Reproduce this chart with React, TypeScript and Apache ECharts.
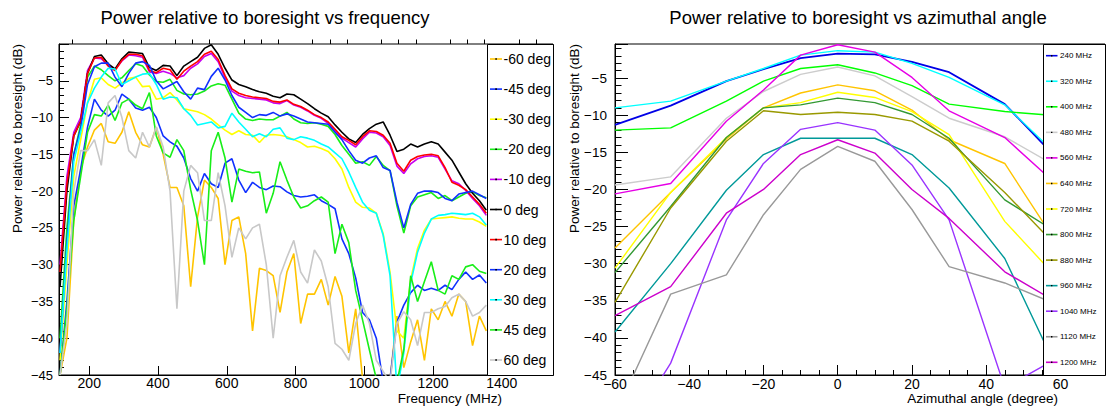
import React, { useEffect, useRef } from 'react';
import * as echarts from 'echarts';

const FONT = '"Liberation Sans", Arial, Helvetica, sans-serif';

// ---------- Left chart: power vs frequency ----------
const freqMHz = [115, 135, 155, 175, 195, 215, 235, 255, 275, 295, 315, 335, 355, 375, 395, 415, 435, 455, 475, 495, 515, 535, 555, 575, 595, 615, 635, 655, 675, 695, 715, 735, 755, 775, 795, 815, 835, 855, 875, 895, 915, 935, 955, 975, 995, 1015, 1035, 1055, 1075, 1095, 1115, 1135, 1155, 1175, 1195, 1215, 1235, 1255, 1275, 1295, 1315, 1335, 1355];

const degM60 = [-45, -40, -24, -17, -14, -11.7, -10.8, -13.3, -13.5, -12.0, -9.2, -12.0, -13.7, -14.0, -11.3, -15.0, -19.5, -19.5, -22.0, -33.0, -23.5, -18.5, -19.5, -21.0, -30.0, -24.0, -23.5, -28.5, -39.0, -30.5, -30.8, -31.5, -36.5, -31.0, -28.5, -38.0, -34.0, -34.0, -32.0, -35.5, -31.6, -34.3, -42.0, -36.0, -45.5, -47, -47, -47, -45.5, -37.0, -44.0, -40.5, -37.5, -43.0, -36.0, -37.5, -35.0, -37.0, -34.0, -35.0, -41.0, -37.0, -39.0];
const degM45 = [-45, -35, -22, -17, -11.3, -7.5, -9.0, -9.8, -9.0, -6.8, -7.5, -8.7, -9.0, -8.6, -10.0, -12.5, -13.3, -13.9, -15.5, -18.3, -20.0, -17.6, -19.0, -19.5, -16.2, -15.6, -18.5, -20.2, -18.8, -19.5, -19.8, -19.3, -19.4, -20.1, -20.6, -20.8, -20.7, -20.5, -21.3, -21.8, -22.4, -26.5, -28.5, -31.8, -36.5, -37.5, -40.0, -46, -45.5, -37.8, -35.5, -33.8, -32.8, -33.5, -33.2, -33.5, -32.8, -33.4, -32.0, -31.0, -32.0, -31.4, -32.5];
const degM30 = [-43, -30, -18, -13, -8, -4.8, -4.6, -5.5, -6.0, -5.3, -4.7, -4.5, -5.8, -5.7, -7.5, -7.3, -6.6, -7.6, -8.8, -9.0, -9.2, -9.6, -10.2, -11.0, -11.7, -12.3, -11.8, -12.3, -12.4, -13.4, -12.4, -12.3, -12.4, -12.6, -13.0, -13.4, -14.0, -13.9, -14.2, -14.6, -15.6, -17.0, -19.5, -21.5, -22.2, -22.3, -23.0, -25.8, -31.0, -39.0, -40.0, -32.0, -27.8, -25.3, -23.8, -23.7, -23.6, -23.5, -23.7, -23.8, -23.8, -24.2, -24.8];
const degM20 = [-40, -25, -15, -11, -4.5, -3.0, -3.5, -4.3, -5.0, -4.6, -3.6, -2.7, -3.0, -4.2, -5.1, -5.2, -4.8, -6.3, -6.8, -6.9, -6.8, -6.4, -5.7, -5.4, -5.6, -7.5, -9.4, -10.2, -10.4, -10.2, -10.3, -10.3, -9.8, -9.3, -10.2, -10.7, -10.8, -10.7, -10.9, -11.2, -12.3, -13.8, -15.0, -16.2, -16.0, -16.5, -15.3, -16.5, -17.2, -22.0, -25.7, -22.0, -20.8, -20.5, -20.2, -21.0, -20.6, -21.3, -20.8, -20.3, -20.1, -20.6, -20.9];
const degM10 = [-30, -18, -12, -10, -3.6, -1.9, -2.0, -2.9, -3.5, -2.3, -1.5, -1.6, -1.8, -3.8, -4.0, -3.7, -4.0, -4.6, -4.3, -3.3, -2.7, -1.7, -1.3, -2.4, -4.6, -6.4, -7.0, -7.3, -7.4, -7.5, -7.6, -8.0, -8.1, -7.7, -8.3, -8.6, -9.1, -9.7, -10.1, -10.8, -11.8, -12.8, -13.4, -14.0, -12.9, -12.0, -12.1, -12.6, -13.8, -16.6, -17.6, -16.3, -15.6, -15.3, -15.2, -15.4, -17.0, -18.6, -19.0, -19.9, -21.0, -22.0, -23.3];
const deg0 = [-33, -20, -12.5, -10.5, -4, -1.7, -1.5, -2.7, -3.4, -2.0, -1.1, -1.2, -1.3, -3.2, -3.6, -2.9, -3.0, -4.3, -3.0, -2.4, -1.8, -0.6, -0.1, -1.4, -3.3, -4.9, -5.5, -5.8, -6.2, -6.5, -6.7, -7.1, -7.3, -6.8, -6.9, -7.5, -8.1, -8.8, -9.4, -9.9, -11.0, -12.0, -12.9, -13.4, -12.3, -11.5, -10.9, -10.6, -12.4, -14.6, -14.3, -13.6, -14.0, -13.6, -13.3, -13.6, -14.7, -15.8, -17.4, -19.0, -20.3, -21.3, -22.6];
const deg10 = [-31, -19, -12.5, -10.5, -4, -1.9, -1.8, -3.0, -3.6, -2.2, -1.4, -1.4, -1.6, -3.6, -3.9, -3.3, -3.5, -4.8, -3.7, -3.0, -2.4, -1.4, -1.0, -2.1, -4.3, -6.1, -6.7, -7.0, -7.2, -7.3, -7.4, -7.8, -7.9, -7.6, -8.2, -8.5, -9.0, -9.6, -10.0, -10.6, -11.6, -12.6, -13.1, -13.7, -12.6, -11.8, -11.9, -12.4, -13.5, -16.2, -17.3, -15.8, -15.3, -15.1, -15.0, -15.2, -16.8, -18.8, -19.2, -19.8, -20.8, -21.8, -23.0];
const deg20 = [-42, -27, -15, -11.5, -5.5, -3.1, -2.6, -2.6, -4.5, -5.8, -4.0, -2.6, -2.4, -2.9, -5.0, -6.1, -5.6, -5.1, -6.5, -7.5, -6.0, -6.2, -4.4, -3.3, -4.9, -7.0, -8.6, -9.3, -10.0, -9.6, -9.7, -9.3, -9.8, -9.5, -9.8, -10.2, -10.6, -10.7, -10.8, -10.9, -12.0, -13.0, -14.5, -15.8, -16.2, -15.5, -15.2, -16.8, -17.2, -21.5, -25.0, -21.8, -20.3, -20.0, -20.0, -20.2, -21.0, -21.3, -20.4, -20.2, -20.0, -20.5, -21.0];
const deg30 = [-42, -28, -16, -12, -8, -6, -4.5, -3.3, -3.4, -5.5, -5.0, -4.5, -4.1, -4.0, -5.5, -7.5, -7.2, -7.3, -8.8, -9.7, -11.0, -10.8, -10.6, -11.4, -11.2, -9.4, -10.6, -11.6, -12.6, -12.2, -12.6, -11.6, -11.4, -12.8, -13.0, -12.6, -12.8, -13.1, -13.6, -14.0, -14.8, -15.6, -17.4, -19.5, -21.5, -22.6, -23.0, -26.0, -31.5, -47, -42, -32.5, -28.3, -25.7, -23.8, -23.3, -23.2, -23.0, -23.1, -23.2, -23.0, -23.5, -24.6];
const deg45 = [-45, -36, -24, -18, -12, -9.6, -9.8, -8.3, -10.4, -8.0, -7.5, -8.3, -8.8, -6.6, -12.5, -14.8, -15.4, -13.0, -14.5, -19.8, -24, -30, -14.5, -12.0, -15.5, -21.5, -17.0, -17.3, -17.5, -17.4, -23.0, -20.3, -16.0, -18.5, -20.8, -22.3, -22.0, -21.3, -20.8, -21.5, -28.5, -24.5, -27.0, -33.5, -37.5, -41.6, -45.5, -47, -47, -46, -41.5, -31.5, -35.0, -32.3, -29.6, -33.5, -34.0, -31.5, -32.0, -30.3, -30.0, -30.9, -31.2];
const deg60 = [-45, -38, -20, -14.5, -14.5, -13.0, -16.5, -8.0, -7.0, -10.0, -14.5, -15.5, -12.0, -14.0, -11.3, -14.0, -20.0, -36.0, -20.0, -16.5, -17.5, -24.0, -24.0, -17.5, -22.0, -29.0, -25.0, -26.5, -25.0, -24.5, -30.0, -40.0, -31.5, -29.0, -26.7, -31.0, -32.5, -28.0, -29.5, -33.0, -40.7, -41.5, -43.0, -38.0, -35.5, -38.0, -43.0, -44.5, -46, -38.0, -36.4, -37.5, -41.0, -36.5, -36.5, -36.0, -35.7, -34.5, -34.0, -35.0, -37.0, -36.5, -35.5];

const leftNames = ['-60 deg', '-45 deg', '-30 deg', '-20 deg', '-10 deg', '0 deg', '10 deg', '20 deg', '30 deg', '45 deg', '60 deg'];
const leftColors = ['#ffc400', '#1030ff', '#ffff00', '#18ee18', '#c800f0', '#000000', '#ff0000', '#1030ff', '#00ffff', '#18ee18', '#c8c8c8'];
const leftValues = [degM60, degM45, degM30, degM20, degM10, deg0, deg10, deg20, deg30, deg45, deg60];

const freqMajorTicks = [200, 400, 600, 800, 1000, 1200, 1400];
const freqMinorTicks = [150, 250, 300, 350, 450, 500, 550, 650, 700, 750, 850, 900, 950, 1050, 1100, 1150, 1250, 1300, 1350, 1450, 1500];

// ---------- Right chart: power vs azimuthal angle ----------
const angleDeg = [-60, -45, -30, -20, -10, 0, 10, 20, 30, 45, 60];
const m240 = [-11.3, -8.7, -5.4, -3.8, -2.3, -1.7, -1.8, -2.8, -4.2, -8.5, -16.3];
const m320 = [-9.0, -8.1, -5.4, -3.7, -1.9, -1.3, -1.5, -3.0, -4.9, -8.6, -15.8];
const m400 = [-12.0, -11.7, -8.1, -5.4, -3.7, -3.2, -4.3, -6.0, -8.5, -9.5, -10.1];
const m480 = [-19.4, -18.3, -10.4, -6.8, -4.5, -3.5, -4.7, -7.5, -10.4, -12.9, -17.2];
const m560 = [-20.6, -19.2, -10.8, -6.6, -1.9, -0.5, -1.5, -4.9, -9.4, -13.0, -19.8];
const m640 = [-27.9, -20.4, -13.2, -9.0, -7.0, -5.9, -6.7, -9.3, -13.3, -16.5, -28.0];
const m720 = [-30.6, -20.4, -13.0, -9.0, -8.3, -6.9, -7.6, -9.5, -12.6, -24.3, -32.4];
const m800 = [-31.2, -22.3, -13.0, -9.0, -8.6, -7.7, -8.3, -9.9, -13.1, -21.4, -26.1];
const m880 = [-35.2, -22.5, -13.5, -9.4, -9.9, -9.6, -9.9, -10.8, -13.5, -20.4, -28.2];
const m960 = [-39.2, -30.0, -20.1, -15.3, -13.1, -13.1, -13.1, -15.3, -19.8, -29.3, -45.2];
const m1040 = [-55.4, -43.4, -24.1, -16.5, -11.9, -11.0, -12.0, -16.7, -24.1, -46.7, -42.5];
const m1120 = [-50.4, -34.1, -31.5, -23.4, -17.3, -14.2, -16.2, -22.7, -30.4, -32.6, -35.7];
const m1200 = [-37.0, -33.1, -23.2, -20.0, -15.3, -13.3, -15.1, -20.0, -23.9, -31.1, -35.5];

const rightNames = ['240 MHz', '320 MHz', '400 MHz', '480 MHz', '560 MHz', '640 MHz', '720 MHz', '800 MHz', '880 MHz', '960 MHz', '1040 MHz', '1120 MHz', '1200 MHz'];
const rightColors = ['#0000e6', '#00ffff', '#00ff00', '#cccccc', '#e600e6', '#ffc400', '#ffff00', '#339933', '#999900', '#009999', '#9933ff', '#999999', '#cc00cc'];
const rightValues = [m240, m320, m400, m480, m560, m640, m720, m800, m880, m960, m1040, m1120, m1200];

const minus = (v: number) => String(v).replace('-', '\u2212');

export default function App() {
  const ref = useRef<HTMLDivElement>(null);
  useEffect(() => {
    if (!ref.current) return;
    const chart = echarts.init(ref.current, undefined, { renderer: 'svg' });

    const series: any[] = [];
    leftValues.forEach((vals, k) => {
      series.push({
        type: 'line', name: leftNames[k], xAxisIndex: 0, yAxisIndex: 0,
        data: freqMHz.map((f, i) => [f, vals[i]]),
        symbol: 'none', showSymbol: false, silent: true,
        lineStyle: { color: leftColors[k], width: 1.6 },
        z: 2 + k * 0.01,
      });
    });
    rightValues.forEach((vals, k) => {
      series.push({
        type: 'line', name: rightNames[k], xAxisIndex: 2, yAxisIndex: 1,
        data: angleDeg.map((a, i) => [a, vals[i]]),
        symbol: 'none', showSymbol: false, silent: true,
        lineStyle: { color: rightColors[k], width: k === 0 ? 1.8 : 1.4 },
      });
    });

    const graphics: any[] = [];
    const txt = (x: number, y: number, text: string, size: number, align: string, extra: any = {}) => ({
      type: 'text', x, y, z: 120, silent: true, ...extra,
      style: { text, fontSize: size, fontFamily: FONT, fill: '#000', align, verticalAlign: 'middle' },
    });
    graphics.push(txt(265, 17, 'Power relative to boresight vs frequency', 18.5, 'center'));
    graphics.push(txt(858, 17, 'Power relative to boresight vs azimuthal angle', 18.5, 'center'));
    graphics.push(txt(17, 44, 'Power relative to boresight (dB)', 13.5, 'right', { rotation: Math.PI / 2 }));
    graphics.push(txt(574, 44, 'Power relative to boresight (dB)', 13.5, 'right', { rotation: Math.PI / 2 }));
    graphics.push(txt(502, 398, 'Frequency (MHz)', 13.5, 'right'));
    graphics.push(txt(1058, 398, 'Azimuthal angle (degree)', 13.5, 'right'));

    // legend boxes
    graphics.push({ type: 'rect', z: 100, silent: true, shape: { x: 487.5, y: 44.5, width: 66, height: 331 }, style: { fill: '#fff', stroke: '#000', lineWidth: 1 } });
    graphics.push({ type: 'rect', z: 100, silent: true, shape: { x: 1043.5, y: 44.5, width: 62, height: 331 }, style: { fill: '#fff', stroke: '#000', lineWidth: 1 } });

    leftNames.forEach((name, k) => {
      const y = 59 + k * 30.1;
      graphics.push({ type: 'line', z: 110, silent: true, shape: { x1: 490, y1: y, x2: 502, y2: y }, style: { stroke: leftColors[k], lineWidth: 1.6 } });
      graphics.push({ type: 'rect', z: 111, silent: true, shape: { x: 495.3, y: y - 0.8, width: 1.6, height: 1.6 }, style: { fill: '#000' } });
      graphics.push(txt(503.5, y, name, 14, 'left'));
    });
    rightNames.forEach((name, k) => {
      const y = 55.7 + k * 25.55;
      graphics.push({ type: 'line', z: 110, silent: true, shape: { x1: 1046, y1: y, x2: 1057.5, y2: y }, style: { stroke: rightColors[k], lineWidth: 1.6 } });
      graphics.push({ type: 'rect', z: 111, silent: true, shape: { x: 1051, y: y - 0.7, width: 1.4, height: 1.4 }, style: { fill: '#000' } });
      graphics.push(txt(1060, y, name, 8, 'left'));
    });

    const axisLine = { show: true, onZero: false, lineStyle: { color: '#000', width: 1 } };

    chart.setOption({
      animation: false,
      backgroundColor: '#fff',
      textStyle: { fontFamily: FONT },
      grid: [
        { left: 59, top: 44, width: 494, height: 331, show: true, borderColor: '#000', borderWidth: 1, backgroundColor: 'transparent' },
        { left: 615, top: 44, width: 490, height: 331, show: true, borderColor: '#000', borderWidth: 1, backgroundColor: 'transparent' },
      ],
      xAxis: [
        {
          type: 'value', gridIndex: 0, min: 112, max: 1549, position: 'bottom',
          axisLine, splitLine: { show: false },
          axisTick: { show: true, inside: true, length: 9, customValues: freqMajorTicks, lineStyle: { color: '#000' } },
          axisLabel: { customValues: freqMajorTicks, fontSize: 14, color: '#000', margin: 1, fontFamily: FONT, formatter: (v: number) => String(v) },
        },
        {
          type: 'value', gridIndex: 0, min: 112, max: 1549, position: 'bottom',
          axisLine: { show: false }, splitLine: { show: false }, axisLabel: { show: false },
          axisTick: { show: true, inside: true, length: 4.5, customValues: freqMinorTicks, lineStyle: { color: '#000' } },
        },
        {
          type: 'value', gridIndex: 1, min: -60, max: 72, interval: 20, position: 'bottom',
          axisLine, splitLine: { show: false },
          axisTick: { show: true, inside: true, length: 10, lineStyle: { color: '#000' } },
          minorTick: { show: true, splitNumber: 4, length: 5, lineStyle: { color: '#000' } },
          axisLabel: { fontSize: 14, color: '#000', margin: 2, showMaxLabel: false, formatter: (v: number) => minus(v), fontFamily: FONT },
        },
      ],
      yAxis: [
        {
          type: 'value', gridIndex: 0, min: -45, max: 0, interval: 5,
          axisLine, splitLine: { show: false },
          axisTick: { show: true, inside: true, length: 10, lineStyle: { color: '#000' } },
          minorTick: { show: true, splitNumber: 5, length: 5, lineStyle: { color: '#000' } },
          axisLabel: { fontSize: 13, color: '#000', margin: 6, showMaxLabel: false, formatter: (v: number) => (v === 0 ? '' : minus(v)), fontFamily: FONT },
        },
        {
          type: 'value', gridIndex: 1, min: -45, max: -0.4, interval: 5,
          axisLine, splitLine: { show: false },
          axisTick: { show: true, inside: true, length: 13, lineStyle: { color: '#000' } },
          minorTick: { show: true, splitNumber: 5, length: 6.5, lineStyle: { color: '#000' } },
          axisLabel: { fontSize: 13.5, color: '#000', margin: 8, showMaxLabel: false, formatter: (v: number) => minus(v), fontFamily: FONT },
        },
      ],
      series,
      graphic: graphics,
    });
    return () => chart.dispose();
  }, []);

  return <div ref={ref} style={{ position: 'fixed', left: 0, top: 0, width: 1113, height: 410, background: '#fff' }} />;
}
